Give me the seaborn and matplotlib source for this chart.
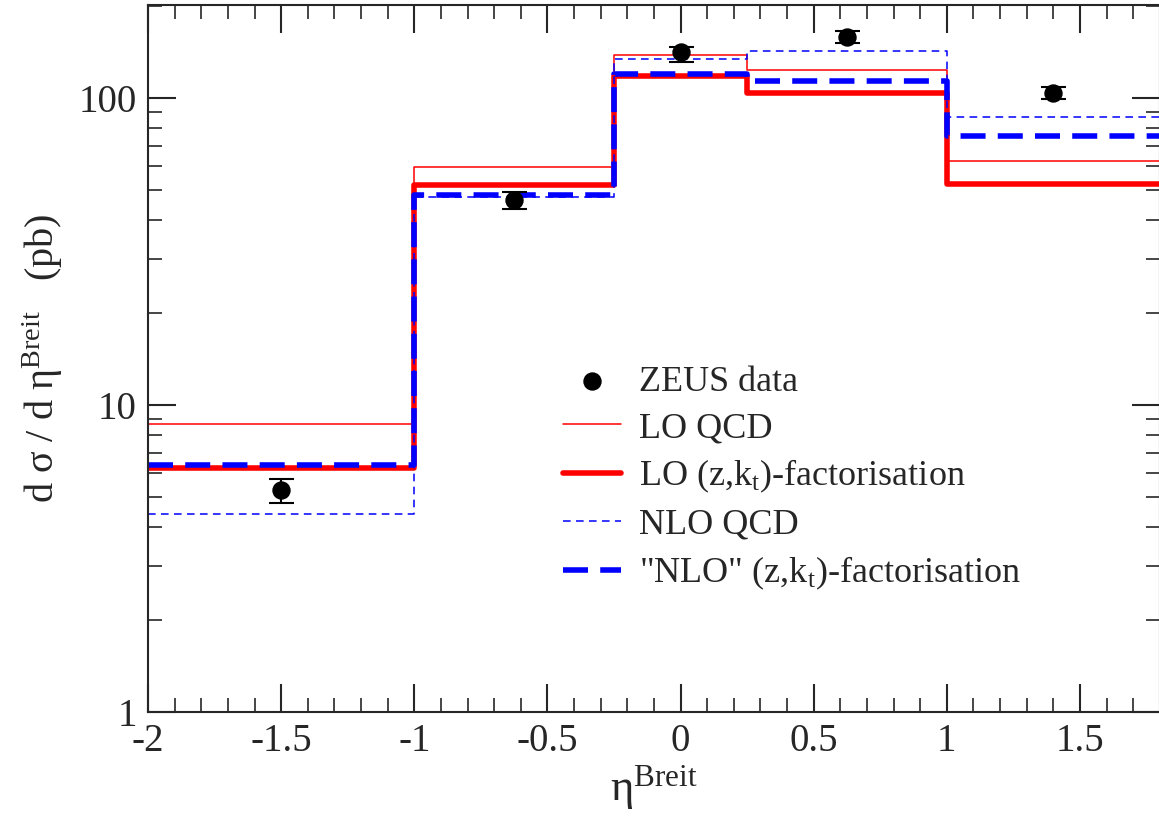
import numpy as np
import pandas as pd
import matplotlib
matplotlib.use("Agg")
import matplotlib.pyplot as plt
import seaborn as sns
from matplotlib.ticker import MultipleLocator, LogLocator, FixedLocator, FixedFormatter, NullFormatter

# bin edges in eta^Breit
edges = [-2.0, -1.0, -0.25, 0.25, 1.0, 1.8]

# theory predictions per bin (pb)
lo_qcd = [8.7, 59.5, 138.0, 123.0, 62.5]
lo_kt = [6.25, 52.0, 118.0, 104.0, 52.5]
nlo_qcd = [4.42, 47.5, 134.0, 142.0, 87.0]
nlo_kt = [6.4, 48.5, 119.5, 114.0, 75.0]

# ZEUS data
data_x = [-1.5, -0.625, 0.0, 0.625, 1.4]
data_y = [5.27, 46.5, 141.0, 158.5, 104.0]
data_lo = [4.81, 43.4, 131.5, 150.7, 99.0]
data_hi = [5.73, 49.5, 147.0, 166.0, 108.8]

sns.set_style("ticks")
plt.rcParams.update({
    "font.family": ["Liberation Serif", "DejaVu Serif"],
    "mathtext.fontset": "custom",
    "mathtext.rm": "Liberation Serif",
    "mathtext.it": "Liberation Serif:italic",
    "axes.unicode_minus": False,
    "axes.linewidth": 1.5,
    "xtick.direction": "in",
    "ytick.direction": "in",
})


def step_frame(values):
    return pd.DataFrame({"x": edges, "y": list(values) + [values[-1]]})


fig = plt.figure(figsize=(11.59, 8.23), dpi=100)
ax = fig.add_axes([0.1277, 0.1349, 0.8730, 0.8590])

sns.lineplot(data=step_frame(lo_qcd), x="x", y="y", drawstyle="steps-post",
             color="#ff0000", lw=1.1, ax=ax, label="LO QCD")
sns.lineplot(data=step_frame(lo_kt), x="x", y="y", drawstyle="steps-post",
             color="#ff0000", lw=4.0, ax=ax, label="LO (z,k$_{\\rm t}$)-factorisation")
sns.lineplot(data=step_frame(nlo_qcd), x="x", y="y", drawstyle="steps-post",
             color="#0000ff", lw=1.1, ax=ax, label="NLO QCD")
ax.lines[-1].set_dashes([5, 3.5])
sns.lineplot(data=step_frame(nlo_kt), x="x", y="y", drawstyle="steps-post",
             color="#0000ff", lw=4.0, ax=ax, label="\"NLO\" (z,k$_{\\rm t}$)-factorisation")
ax.lines[-1].set_dashes([4.5, 2.2])

yerr = [np.array(data_y) - np.array(data_lo), np.array(data_hi) - np.array(data_y)]
ax.errorbar(data_x, data_y, yerr=yerr, fmt="none", ecolor="black",
            capsize=9, elinewidth=1.5, capthick=1.5, zorder=5)
sns.scatterplot(x=data_x, y=data_y, color="black", s=150, edgecolor="black",
                ax=ax, zorder=6, label="ZEUS data")

ax.set_yscale("log")
ax.set_xlim(-2, 1.8)
ax.set_ylim(1, 201)

ax.xaxis.set_major_locator(MultipleLocator(0.5))
ax.xaxis.set_minor_locator(MultipleLocator(0.1))
ax.yaxis.set_major_locator(FixedLocator([1, 10, 100]))
ax.yaxis.set_major_formatter(FixedFormatter(["1", "10", "100"]))
ax.yaxis.set_minor_locator(LogLocator(base=10, subs=np.arange(2, 10)))
ax.yaxis.set_minor_formatter(NullFormatter())
ax.xaxis.set_major_formatter(matplotlib.ticker.FuncFormatter(lambda v, p: f"{v:g}"))

ax.tick_params(which="major", length=20, width=1.5, labelsize=28, top=True, right=True, pad=8)
ax.tick_params(which="minor", length=10, width=1.2, top=True, right=True)

ax.set_xlabel("η$^{\\rm Breit}$", fontsize=32, labelpad=2)
ax.set_ylabel("d σ / d η$^{\\rm Breit}$   (pb)", fontsize=29, labelpad=10)

handles, labels = ax.get_legend_handles_labels()
order = [labels.index(l) for l in ["ZEUS data", "LO QCD", "LO (z,k$_{\\rm t}$)-factorisation",
                                   "NLO QCD", "\"NLO\" (z,k$_{\\rm t}$)-factorisation"]]
ax.legend([handles[i] for i in order], [labels[i] for i in order],
          loc="upper left", bbox_to_anchor=(0.41, 0.49), frameon=False,
          fontsize=26, handlelength=1.6, handletextpad=0.5, labelspacing=0.36,
          borderpad=0, borderaxespad=0)

fig.savefig("out.png", dpi=100)
